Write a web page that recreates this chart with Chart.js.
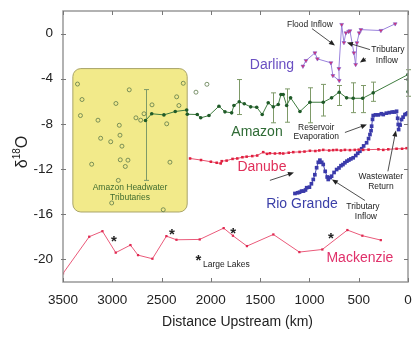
<!DOCTYPE html>
<html>
<head>
<meta charset="utf-8">
<script src="https://cdn.jsdelivr.net/npm/chart.js@4.4.0/dist/chart.umd.min.js"></script>
<style>
  html, body { margin: 0; padding: 0; background: #fff; }
  canvas { display: block; }
</style>
</head>
<body>
<canvas id="chart" width="418" height="341"></canvas>
<script>
// tick labels
const xTicks = [0, 500, 1000, 1500, 2000, 2500, 3000, 3500];
const yTicks = [0, -4, -8, -12, -16, -20];

// Amazon headwater tributaries (open circles)
const headKm  = [3353, 3307, 3323, 2828, 2963, 3145, 2929, 3118, 3016, 2902, 2922, 2919, 2841, 3209, 2868, 2939, 3006, 2597, 2678, 2760, 2712, 2448, 2347, 2324, 2280, 2151, 2040, 2415, 2483];
const headVal = [-4.47, -5.84, -7.26, -4.98, -6.19, -7.67, -8.12, -9.27, -9.58, -9.97, -9.0, -11.18, -11.21, -11.57, -11.77, -13.0, -15.0, -6.31, -7.1, -7.46, -7.67, -7.99, -5.6, -6.37, -4.4, -5.19, -4.49, -11.39, -15.6];

// Amazon main stem
const amazonKm  = [2663, 2600, 2476, 2361, 2245, 2239, 2138, 2103, 2019, 1918, 1857, 1789, 1766, 1712, 1661, 1596, 1535, 1479, 1418, 1367, 1316, 1289, 1266, 1231, 1191, 1096, 995, 860, 775, 698, 623, 556, 460, 353, 0, 0, 0];
const amazonVal = [-7.7, -7.1, -7.2, -6.9, -6.77, -7.14, -7.17, -7.46, -7.26, -6.43, -6.93, -7.02, -6.37, -6.04, -6.22, -6.49, -6.52, -7.17, -6.13, -6.49, -6.28, -5.4, -5.4, -6.37, -5.69, -6.9, -6.08, -6.08, -5.69, -5.19, -5.69, -5.73, -5.73, -5.25, -3.63, -4.07, -5.16];

// Amazon error bars
const errKm = [2663, 1712, 1367, 1231, 995, 860, 698, 556, 460, 353, 0];
const errLo = [-13.0, -7.17, -7.9, -7.85, -7.9, -7.3, -6.37, -7.0, -7.0, -6.0, -5.55];
const errHi = [-4.96, -4.07, -5.25, -4.9, -4.8, -4.5, -4.6, -4.36, -4.6, -4.3, -3.2];

// Danube
const danubeKm  = [2211, 2100, 2000, 1941, 1900, 1890, 1840, 1780, 1732, 1680, 1637, 1580, 1530, 1469, 1430, 1401, 1350, 1300, 1266, 1210, 1164, 1100, 1050, 995, 940, 900, 860, 800, 760, 724, 680, 640, 589, 540, 500, 454, 400, 300, 251, 200, 116, 60, 14];
const danubeVal = [-11.06, -11.2, -11.35, -11.44, -11.5, -11.3, -11.25, -11.1, -11.06, -10.95, -10.9, -10.85, -10.8, -10.5, -10.65, -10.6, -10.62, -10.6, -10.62, -10.55, -10.5, -10.48, -10.45, -10.38, -10.4, -10.35, -10.3, -10.35, -10.32, -10.3, -10.35, -10.3, -10.32, -10.3, -10.28, -10.3, -10.28, -10.25, -10.3, -10.25, -10.2, -10.2, -10.15];

// Rio Grande
const rioKm  = [1147, 1120, 1100, 1080, 1060, 1040, 1028, 1000, 980, 961, 945, 927, 910, 894, 875, 860, 840, 820, 809, 790, 775, 750, 724, 700, 680, 660, 640, 620, 600, 580, 556, 530, 510, 488, 470, 450, 420, 400, 386, 375, 369, 360, 353, 330, 300, 270, 251, 220, 190, 160, 140, 116, 105, 99, 95, 80, 65, 50, 31, 15, 0];
const rioVal = [-14.16, -14.1, -14.05, -13.95, -13.95, -13.85, -13.65, -13.6, -13.3, -12.92, -12.5, -11.88, -11.4, -11.21, -11.4, -11.59, -12.2, -12.7, -12.92, -12.75, -12.63, -12.3, -12.04, -11.9, -11.7, -11.6, -11.44, -11.3, -11.2, -11.1, -11.0, -10.8, -10.6, -10.42, -10.2, -9.95, -9.67, -9.3, -8.94, -8.6, -8.2, -7.6, -7.26, -7.2, -7.2, -7.1, -7.17, -7.05, -7.0, -6.95, -6.95, -6.88, -7.5, -8.05, -8.5, -8.1, -7.61, -7.4, -7.17, -7.1, -7.02];

// Darling
const darlingKm  = [1066, 1035, 944, 919, 782, 762, 698, 701, 673, 650, 630, 602, 589, 549, 531, 518, 495, 478, 275, 130];
const darlingVal = [-2.89, -2.39, -1.71, -2.24, -2.59, -3.72, -4.16, -3.1, 0.8, -0.8, 0.06, 0.18, 0.24, -1.71, -2.74, -0.82, 0.06, 0.35, 0.27, 0.86];

// Mackenzie
const mackKm  = [3500, 3234, 3100, 2965, 2816, 2739, 2593, 2451, 2349, 2113, 1870, 1776, 1634, 1366, 1102, 869, 615, 463, 276];
const mackVal = [-21.24, -17.99, -17.5, -19.4, -18.73, -19.62, -19.94, -17.94, -18.26, -18.23, -17.23, -17.9, -18.82, -17.79, -19.35, -19.12, -17.4, -17.9, -18.29];

// Large-lake stars
const starKm  = [2983, 2395, 1773, 782, 2126];
const starVal = [-18.05, -17.48, -17.35, -17.8, -19.8];

// headwater box extent (data units)
const boxKm  = [3400, 2240];
const boxVal = [-3.1, -15.8];

const FONT = "'Liberation Sans', Arial, sans-serif";

// labels: [text, km, value, colour, size, align]
const labels = [
  ['Darling', 1380, -2.83, '#6a4fc2', 14, 'center'],
  ['Amazon', 1532, -8.76, '#2f6b35', 14, 'center'],
  ['Danube', 1482, -11.86, '#e0305a', 14, 'center'],
  ['Rio Grande', 1076, -15.13, '#3b3fa8', 14, 'center'],
  ['Mackenzie', 488, -19.9, '#e0306a', 14, 'center'],
  ['Amazon Headwater', 2820, -13.63, '#3f6b2f', 8.5, 'center'],
  ['Tributaries', 2820, -14.5, '#3f6b2f', 8.5, 'center'],
  ['Flood Inflow', 995, 0.8, '#222', 8.5, 'center'],
  ['Tributary', 204, -1.42, '#222', 8.5, 'center'],
  ['Inflow', 214, -2.39, '#222', 8.5, 'center'],
  ['Reservoir', 931, -8.32, '#222', 8.5, 'center'],
  ['Evaporation', 931, -9.12, '#222', 8.5, 'center'],
  ['Tributary', 457, -15.3, '#222', 8.5, 'center'],
  ['Inflow', 427, -16.2, '#222', 8.5, 'center'],
  ['Wastewater', 275, -12.65, '#222', 8.5, 'center'],
  ['Return', 275, -13.54, '#222', 8.5, 'center'],
  ['Large Lakes', 2080, -20.44, '#222', 8.5, 'left']
];

// arrows: [fromKm, fromVal, toKm, toVal]
const arrows = [
  [974, 0.44, 741, -1.06],
  [386, -1.42, 620, -0.8],
  [427, -2.21, 488, -2.57],
  [640, -8.76, 417, -8.05],
  [1401, -13.0, 1157, -12.3],
  [437, -14.78, 772, -12.92],
  [204, -12.2, 123, -8.58]
];

const pts = (xs, ys) => xs.map((x, i) => ({ x: x, y: ys[i] }));

function arrow(ctx, x1, y1, x2, y2) {
  const a = Math.atan2(y2 - y1, x2 - x1);
  ctx.beginPath();
  ctx.moveTo(x1, y1);
  ctx.lineTo(x2 - 4 * Math.cos(a), y2 - 4 * Math.sin(a));
  ctx.stroke();
  ctx.beginPath();
  ctx.moveTo(x2, y2);
  ctx.lineTo(x2 - 6 * Math.cos(a) + 2.5 * Math.sin(a), y2 - 6 * Math.sin(a) - 2.5 * Math.cos(a));
  ctx.lineTo(x2 - 6 * Math.cos(a) - 2.5 * Math.sin(a), y2 - 6 * Math.sin(a) + 2.5 * Math.cos(a));
  ctx.closePath();
  ctx.fill();
}

const decor = {
  id: 'decor',
  beforeDatasetsDraw(chart) {
    const { ctx, scales: { x, y } } = chart;
    // yellow headwater box
    const bx1 = x.getPixelForValue(boxKm[0]), bx2 = x.getPixelForValue(boxKm[1]);
    const by1 = y.getPixelForValue(boxVal[0]), by2 = y.getPixelForValue(boxVal[1]);
    ctx.save();
    ctx.beginPath();
    ctx.roundRect(bx1, by1, bx2 - bx1, by2 - by1, 8);
    ctx.fillStyle = '#f2ea8a';
    ctx.fill();
    ctx.strokeStyle = '#a9a46a';
    ctx.lineWidth = 1;
    ctx.stroke();
    // error bars
    ctx.strokeStyle = '#7e9a68';
    ctx.lineWidth = 1;
    errKm.forEach((k, i) => {
      const px = Math.round(x.getPixelForValue(k)) + 0.5;
      const lo = y.getPixelForValue(errLo[i]), hi = y.getPixelForValue(errHi[i]);
      ctx.beginPath();
      ctx.moveTo(px, lo); ctx.lineTo(px, hi);
      ctx.moveTo(px - 2.5, lo); ctx.lineTo(px + 2.5, lo);
      ctx.moveTo(px - 2.5, hi); ctx.lineTo(px + 2.5, hi);
      ctx.stroke();
    });
    ctx.restore();
  },
  afterDraw(chart) {
    const { ctx, chartArea: ca, scales: { x, y } } = chart;
    ctx.save();
    // frame
    ctx.strokeStyle = '#999';
    ctx.lineWidth = 1.5;
    ctx.strokeRect(ca.left, ca.top, ca.right - ca.left, ca.bottom - ca.top);
    // inward ticks
    ctx.strokeStyle = '#777';
    ctx.lineWidth = 1;
    ctx.beginPath();
    xTicks.forEach(v => {
      const px = Math.round(x.getPixelForValue(v)) + 0.5;
      ctx.moveTo(px, ca.bottom); ctx.lineTo(px, ca.bottom - 4);
      ctx.moveTo(px, ca.top); ctx.lineTo(px, ca.top + 4);
    });
    yTicks.forEach(v => {
      const py = Math.round(y.getPixelForValue(v)) + 0.5;
      ctx.moveTo(ca.left - 2, py); ctx.lineTo(ca.left + 3, py);
      ctx.moveTo(ca.right, py); ctx.lineTo(ca.right - 4, py);
    });
    ctx.stroke();

    // text labels
    ctx.textBaseline = 'middle';
    labels.forEach(([t, k, v, c, s, al]) => {
      ctx.fillStyle = c;
      ctx.font = s + 'px ' + FONT;
      ctx.textAlign = al;
      ctx.fillText(t, x.getPixelForValue(k), y.getPixelForValue(v));
    });

    // stars
    ctx.fillStyle = '#222';
    ctx.font = 'bold 15px ' + FONT;
    ctx.textAlign = 'center';
    starKm.forEach((k, i) => {
      ctx.fillText('*', x.getPixelForValue(k), y.getPixelForValue(starVal[i]) + 4);
    });

    // arrows
    ctx.strokeStyle = '#222';
    ctx.fillStyle = '#222';
    ctx.lineWidth = 0.8;
    arrows.forEach(([k1, v1, k2, v2]) => {
      arrow(ctx, x.getPixelForValue(k1), y.getPixelForValue(v1), x.getPixelForValue(k2), y.getPixelForValue(v2));
    });

    // x axis title
    ctx.fillStyle = '#222';
    ctx.font = '14px ' + FONT;
    ctx.textAlign = 'center';
    ctx.fillText('Distance Upstream (km)', (ca.left + ca.right) / 2 + 2, 322);

    // y axis title: δ18O
    ctx.translate(21, 152);
    ctx.rotate(-Math.PI / 2);
    ctx.textAlign = 'left';
    ctx.textBaseline = 'alphabetic';
    const big = '16px ' + FONT, small = '10px ' + FONT;
    ctx.font = big; const wd = ctx.measureText('\u03b4').width, wo = ctx.measureText('O').width;
    ctx.font = small; const w18 = ctx.measureText('18').width;
    let sx = -(wd + w18 + wo) / 2;
    ctx.font = big; ctx.fillText('\u03b4', sx, 6); sx += wd;
    ctx.font = small; ctx.fillText('18', sx, -1); sx += w18;
    ctx.font = big; ctx.fillText('O', sx, 6);
    ctx.restore();
  }
};

new Chart(document.getElementById('chart'), {
  type: 'scatter',
  data: {
    datasets: [
      {
        label: 'Amazon Headwater Tributaries',
        data: pts(headKm, headVal),
        showLine: false,
        pointRadius: 2,
        pointBorderWidth: 0.8,
        pointBorderColor: '#5d7a4a',
        pointBackgroundColor: 'rgba(0,0,0,0)'
      },
      {
        label: 'Amazon',
        data: pts(amazonKm, amazonVal),
        showLine: true,
        borderColor: '#3f7c3f',
        borderWidth: 1,
        pointRadius: 1.8,
        pointBorderWidth: 0,
        pointBackgroundColor: '#1f5a28'
      },
      {
        label: 'Danube',
        data: pts(danubeKm, danubeVal),
        showLine: true,
        borderColor: '#e8506e',
        borderWidth: 1,
        pointStyle: 'rect',
        pointRadius: 1.8,
        pointBorderWidth: 0,
        pointBackgroundColor: '#e0203f'
      },
      {
        label: 'Rio Grande',
        data: pts(rioKm, rioVal),
        showLine: true,
        borderColor: '#4646b0',
        borderWidth: 1,
        pointStyle: 'rect',
        pointRadius: 2.6,
        pointBorderWidth: 0,
        pointBackgroundColor: '#3a3aaa'
      },
      {
        label: 'Darling',
        data: pts(darlingKm, darlingVal),
        showLine: true,
        borderColor: '#9a82dc',
        borderWidth: 1,
        pointStyle: 'triangle',
        rotation: 180,
        pointRadius: 2.2,
        pointBorderWidth: 0.6,
        pointBorderColor: '#7a5cd0',
        pointBackgroundColor: '#d8306e'
      },
      {
        label: 'Mackenzie',
        data: pts(mackKm, mackVal),
        showLine: true,
        borderColor: '#ea5a7a',
        borderWidth: 1,
        pointStyle: 'rect',
        pointRadius: 1.6,
        pointBorderWidth: 0,
        pointBackgroundColor: '#e02a52'
      }
    ]
  },
  options: {
    responsive: false,
    animation: false,
    devicePixelRatio: 1,
    layout: { autoPadding: false, padding: { top: 11, right: 10, left: 0, bottom: 0 } },
    plugins: { legend: { display: false }, tooltip: { enabled: false } },
    scales: {
      x: {
        type: 'linear', reverse: true, min: 0, max: 3500,
        grid: { display: false, drawTicks: false },
        border: { display: false },
        afterBuildTicks: s => { s.ticks = xTicks.map(v => ({ value: v })); },
        afterFit: s => { s.height = 59; s.paddingLeft = 0; s.paddingRight = 0; },
        ticks: { font: { family: FONT, size: 13.5 }, color: '#222', padding: 10, maxRotation: 0, autoSkip: false, callback: v => String(v) }
      },
      y: {
        type: 'linear', min: -22, max: 2,
        grid: { display: false, drawTicks: false },
        border: { display: false },
        afterBuildTicks: s => { s.ticks = yTicks.map(v => ({ value: v })); },
        afterFit: s => { s.width = 63; s.paddingTop = 0; s.paddingBottom = 0; },
        ticks: { font: { family: FONT, size: 13.5 }, color: '#222', padding: 10, callback: v => String(v) }
      }
    }
  },
  plugins: [decor]
});
</script>
</body>
</html>
